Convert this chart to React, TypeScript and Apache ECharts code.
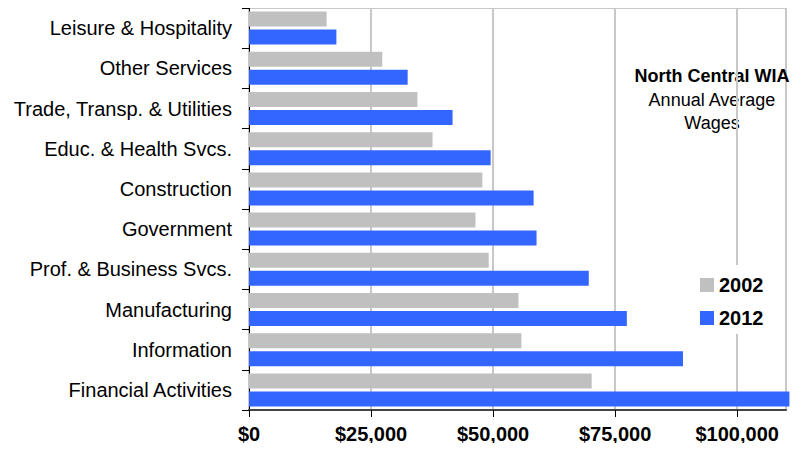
import React, { useEffect, useRef } from "react";
import * as echarts from "echarts";

const categories = [
  "Leisure & Hospitality",
  "Other Services",
  "Trade, Transp. & Utilities",
  "Educ. & Health Svcs.",
  "Construction",
  "Government",
  "Prof. & Business Svcs.",
  "Manufacturing",
  "Information",
  "Financial Activities",
];
const wages2002 = [15900, 27300, 34500, 37600, 47800, 46400, 49100, 55200, 55800, 70200];
const wages2012 = [17900, 32500, 41700, 49500, 58300, 58900, 69600, 77400, 88900, 110700];
const xTicks = [0, 25000, 50000, 75000, 100000];
const titleLines = ["North Central WIA", "Annual Average", "Wages"];
const seriesNames = ["2002", "2012"];

const FONT = "'Liberation Sans', Arial, Helvetica, sans-serif";

export default function App() {
  const ref = useRef<HTMLDivElement>(null);
  useEffect(() => {
    if (!ref.current) return;
    const chart = echarts.init(ref.current, null, { renderer: "svg" });
    const fmt = (v: number) =>
      xTicks.includes(v) ? "$" + v.toLocaleString("en-US") : "";
    chart.setOption({
      animation: false,
      textStyle: { fontFamily: FONT },
      grid: {
        left: 249,
        right: 16,
        top: 8,
        bottom: 41,
        show: true,
        borderColor: "#c8c8c8",
        borderWidth: 2,
      },
      legend: {
        orient: "vertical",
        left: 690,
        top: 265,
        padding: [10, 10, 6, 10],
        backgroundColor: "#ffffff",
        itemWidth: 14,
        itemHeight: 14,
        itemGap: 13,
        icon: "rect",
        data: seriesNames,
        textStyle: { fontSize: 20, fontWeight: "bold", color: "#000", fontFamily: FONT },
      },
      xAxis: {
        type: "value",
        min: 0,
        max: 110000,
        interval: 25000,
        axisLine: { show: true, lineStyle: { color: "#444", width: 2 } },
        axisTick: {
          show: true,
          length: 7,
          lineStyle: { color: "#000", width: 1 },
          customValues: xTicks,
        },
        axisLabel: {
          formatter: fmt,
          customValues: xTicks,
          fontSize: 20,
          fontWeight: "bold",
          color: "#000",
          margin: 14,
          fontFamily: FONT,
        },
        splitLine: { show: true, lineStyle: { color: "#c8c8c8", width: 2 } },
      },
      yAxis: {
        type: "category",
        inverse: true,
        data: categories,
        axisLine: { show: true, lineStyle: { color: "#000", width: 1 } },
        axisTick: { show: true, length: 7, lineStyle: { color: "#000" } },
        axisLabel: { fontSize: 20, color: "#000", margin: 17, fontFamily: FONT },
        splitLine: { show: false },
      },
      series: [
        {
          name: seriesNames[0],
          type: "bar",
          data: wages2002,
          itemStyle: { color: "#c0c0c0" },
          barGap: "20%",
          barCategoryGap: "18%",
        },
        {
          name: seriesNames[1],
          type: "bar",
          data: wages2012,
          itemStyle: { color: "#3366ff" },
          barGap: "20%",
          barCategoryGap: "18%",
          clip: false,
        },
      ],
      graphic: [
        {
          type: "text",
          x: 712,
          y: 76,
          style: {
            text: titleLines[0],
            fontSize: 18,
            fontWeight: "bold",
            fill: "#000",
            align: "center",
            verticalAlign: "middle",
            fontFamily: FONT,
          },
        },
        {
          type: "text",
          x: 712,
          y: 100,
          style: {
            text: titleLines[1],
            fontSize: 18,
            fill: "#000",
            align: "center",
            verticalAlign: "middle",
            fontFamily: FONT,
          },
        },
        {
          type: "text",
          x: 712,
          y: 123,
          style: {
            text: titleLines[2],
            fontSize: 18,
            fill: "#000",
            align: "center",
            verticalAlign: "middle",
            fontFamily: FONT,
          },
        },
      ],
    });
    return () => chart.dispose();
  }, []);
  return <div ref={ref} style={{ width: 802, height: 451, margin: -8 }} />;
}
